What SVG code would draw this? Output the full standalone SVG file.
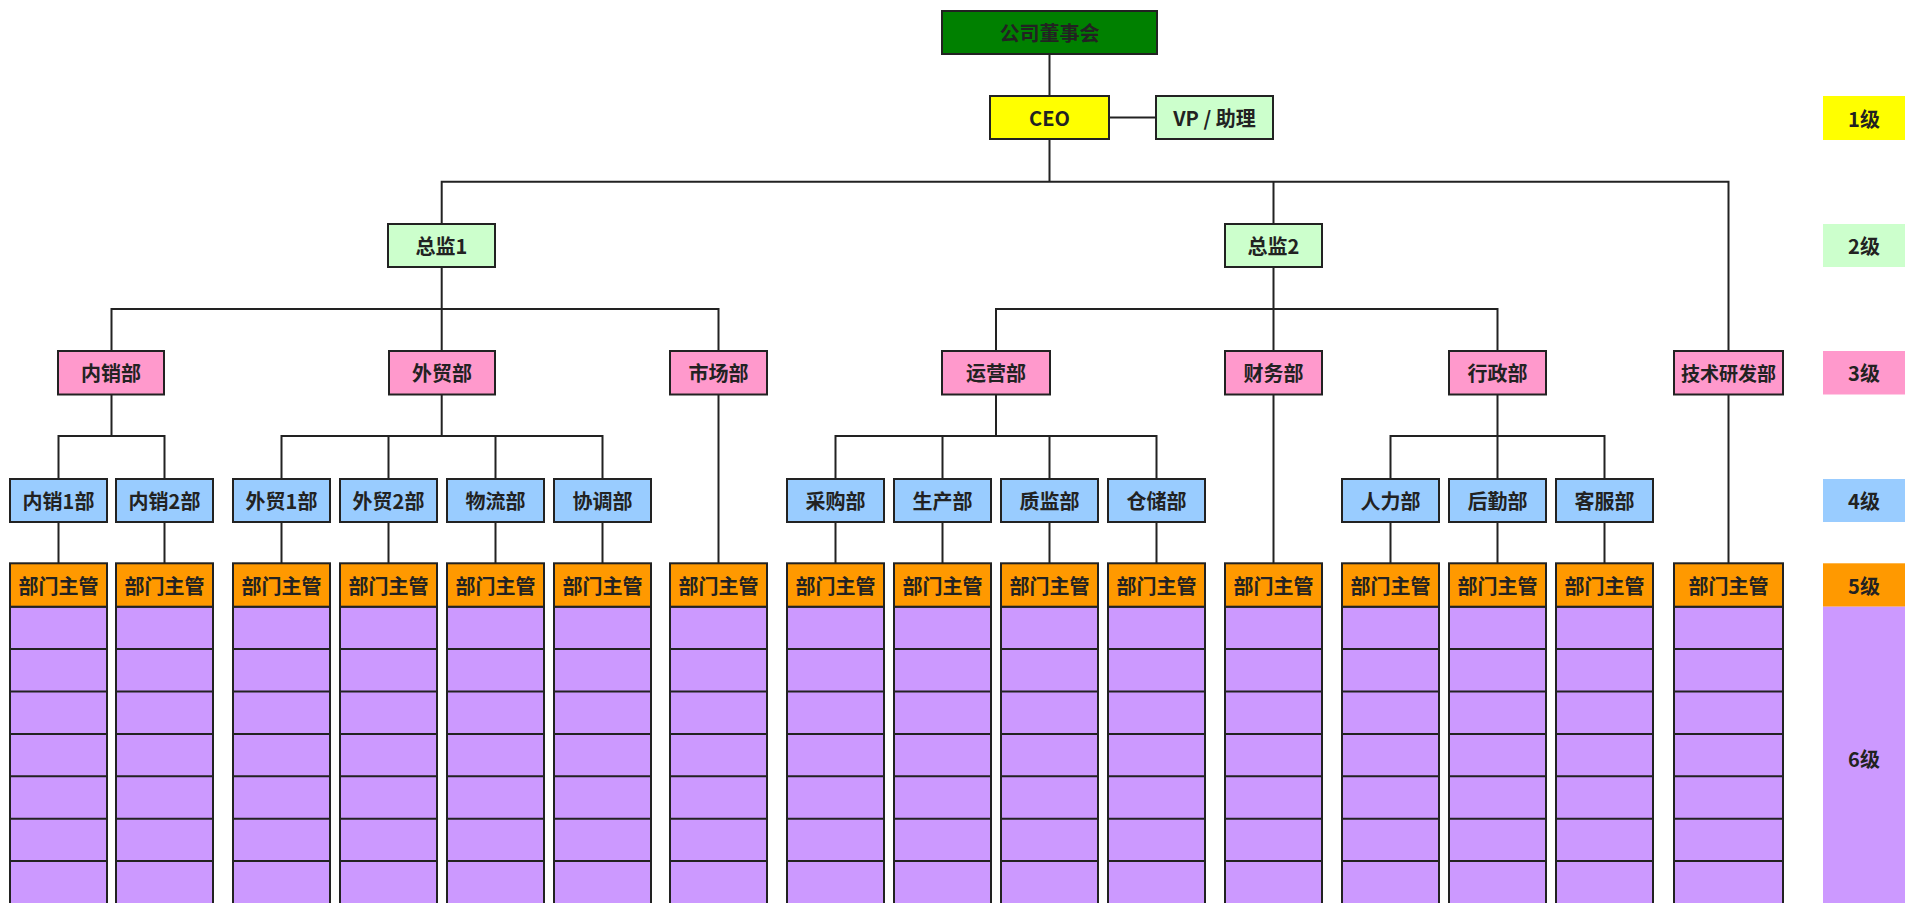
<svg xmlns="http://www.w3.org/2000/svg" width="1905" height="903" viewBox="0 0 1905 903">
<style>
text{font-family:"Noto Sans CJK SC","Liberation Sans",sans-serif;font-size:20px;fill:#222;text-anchor:middle;dominant-baseline:central;font-weight:700}
.b{stroke:#222;stroke-width:2}
.board{fill:#008000}
.ceo{fill:#FFFF00}
.g{fill:#CCFFCC}
.p{fill:#FF99CC}
.bl{fill:#99CCFF}
.o{fill:#FF9900}
.pu{fill:#CC99FF}
.conn path{fill:none;stroke:#222;stroke-width:2}
.rl{stroke:#222;stroke-width:2}
</style>
<rect width="1905" height="903" fill="#fff"/>
<g id="connectors" class="conn">
<path d="M1049.5 54V96"/>
<path d="M1109 117.5H1156"/>
<path d="M1049.5 139V181.7M441.7 224V181.7H1728.5V351M1273.5 181.7V224"/>
<path d="M441.7 266.7V351M111.5 351V309H718.5V351"/>
<path d="M1273.5 266.7V351M996 351V309H1497.5V351"/>
<path d="M111.5 394.7V436M58.5 479V436H164.5V479"/>
<path d="M441.7 394.7V436M281.5 479V436H602.5V479M388.5 436V479M495.5 436V479"/>
<path d="M718.5 394.7V563.3"/>
<path d="M996 394.7V436M835.5 479V436H1156.5V479M942.5 436V479M1049.5 436V479"/>
<path d="M1273.5 394.7V563.3"/>
<path d="M1497.5 394.7V436M1390.5 479V436H1604.5V479M1497.5 436V479"/>
<path d="M1728.5 394.3V563.3"/>
<path d="M58.5 522V563.3M164.5 522V563.3M281.5 522V563.3M388.5 522V563.3M495.5 522V563.3M602.5 522V563.3M835.5 522V563.3M942.5 522V563.3M1049.5 522V563.3M1156.5 522V563.3M1390.5 522V563.3M1497.5 522V563.3M1604.5 522V563.3"/>
</g>
<g id="board"><rect class="board b" x="942" y="11" width="215" height="43"/><text x="1049.5" y="32.5">公司董事会</text></g>
<g id="ceo"><rect class="ceo b" x="990" y="96" width="119" height="43"/><text x="1049.5" y="117.5">CEO</text></g>
<g id="vp"><rect class="g b" x="1156" y="96" width="117" height="43"/><text x="1214.5" y="117.5">VP / 助理</text></g>
<g id="zj1"><rect class="g b" x="388" y="224" width="107" height="43"/><text x="441.5" y="245.5">总监1</text></g>
<g id="zj2"><rect class="g b" x="1225" y="224" width="97" height="43"/><text x="1273.5" y="245.5">总监2</text></g>
<g id="nx"><rect class="p b" x="58" y="351" width="106" height="43.5"/><text x="111" y="372.7">内销部</text></g>
<g id="wm"><rect class="p b" x="389" y="351" width="106" height="43.5"/><text x="442" y="372.7">外贸部</text></g>
<g id="sc"><rect class="p b" x="670" y="351" width="97" height="43.5"/><text x="718.5" y="372.7">市场部</text></g>
<g id="yy"><rect class="p b" x="942" y="351" width="108" height="43.5"/><text x="996" y="372.7">运营部</text></g>
<g id="cw"><rect class="p b" x="1225" y="351" width="97" height="43.5"/><text x="1273.5" y="372.7">财务部</text></g>
<g id="xz"><rect class="p b" x="1449" y="351" width="97" height="43.5"/><text x="1497.5" y="372.7">行政部</text></g>
<g id="js"><rect class="p b" x="1674" y="351" width="109" height="43.5"/><text x="1728.5" y="372.7" style="font-size:19px">技术研发部</text></g>
<g id="l4-1"><rect class="bl b" x="10" y="479" width="97" height="43"/><text x="58.5" y="500.5">内销1部</text></g>
<g id="l4-2"><rect class="bl b" x="116" y="479" width="97" height="43"/><text x="164.5" y="500.5">内销2部</text></g>
<g id="l4-3"><rect class="bl b" x="233" y="479" width="97" height="43"/><text x="281.5" y="500.5">外贸1部</text></g>
<g id="l4-4"><rect class="bl b" x="340" y="479" width="97" height="43"/><text x="388.5" y="500.5">外贸2部</text></g>
<g id="l4-5"><rect class="bl b" x="447" y="479" width="97" height="43"/><text x="495.5" y="500.5">物流部</text></g>
<g id="l4-6"><rect class="bl b" x="554" y="479" width="97" height="43"/><text x="602.5" y="500.5">协调部</text></g>
<g id="l4-7"><rect class="bl b" x="787" y="479" width="97" height="43"/><text x="835.5" y="500.5">采购部</text></g>
<g id="l4-8"><rect class="bl b" x="894" y="479" width="97" height="43"/><text x="942.5" y="500.5">生产部</text></g>
<g id="l4-9"><rect class="bl b" x="1001" y="479" width="97" height="43"/><text x="1049.5" y="500.5">质监部</text></g>
<g id="l4-10"><rect class="bl b" x="1108" y="479" width="97" height="43"/><text x="1156.5" y="500.5">仓储部</text></g>
<g id="l4-11"><rect class="bl b" x="1342" y="479" width="97" height="43"/><text x="1390.5" y="500.5">人力部</text></g>
<g id="l4-12"><rect class="bl b" x="1449" y="479" width="97" height="43"/><text x="1497.5" y="500.5">后勤部</text></g>
<g id="l4-13"><rect class="bl b" x="1556" y="479" width="97" height="43"/><text x="1604.5" y="500.5">客服部</text></g>
<defs>
<g id="col">
<rect class="pu b" x="0" y="606.7" width="97" height="300"/>
<path class="rl" d="M0 649.1H97M0 691.5H97M0 733.9H97M0 776.3H97M0 818.7H97M0 861.1H97"/>
<rect class="o b" x="0" y="563.3" width="97" height="43.4"/>
<text x="48.5" y="585">部门主管</text>
</g>
</defs>
<g id="c1"><use href="#col" x="10"/></g>
<g id="c2"><use href="#col" x="116"/></g>
<g id="c3"><use href="#col" x="233"/></g>
<g id="c4"><use href="#col" x="340"/></g>
<g id="c5"><use href="#col" x="447"/></g>
<g id="c6"><use href="#col" x="554"/></g>
<g id="c7"><use href="#col" x="670"/></g>
<g id="c8"><use href="#col" x="787"/></g>
<g id="c9"><use href="#col" x="894"/></g>
<g id="c10"><use href="#col" x="1001"/></g>
<g id="c11"><use href="#col" x="1108"/></g>
<g id="c12"><use href="#col" x="1225"/></g>
<g id="c13"><use href="#col" x="1342"/></g>
<g id="c14"><use href="#col" x="1449"/></g>
<g id="c15"><use href="#col" x="1556"/></g>
<g id="c16">
<rect class="pu b" x="1674" y="606.7" width="109" height="300"/>
<path class="rl" d="M1674 649.1H1783M1674 691.5H1783M1674 733.9H1783M1674 776.3H1783M1674 818.7H1783M1674 861.1H1783"/>
<rect class="o b" x="1674" y="563.3" width="109" height="43.4"/>
<text x="1728.5" y="585">部门主管</text>
</g>
<g id="legend">
<rect class="ceo" x="1823" y="96" width="82" height="44"/><text x="1864" y="118">1级</text>
<rect class="g" x="1823" y="224" width="82" height="43"/><text x="1864" y="245.5">2级</text>
<rect class="p" x="1823" y="351" width="82" height="43.5"/><text x="1864" y="372.7">3级</text>
<rect class="bl" x="1823" y="479" width="82" height="43"/><text x="1864" y="500.5">4级</text>
<rect class="o" x="1823" y="563.3" width="82" height="43.4"/><text x="1864" y="585">5级</text>
<rect class="pu" x="1823" y="606.7" width="82" height="297"/><text x="1864" y="758">6级</text>
</g>
</svg>
